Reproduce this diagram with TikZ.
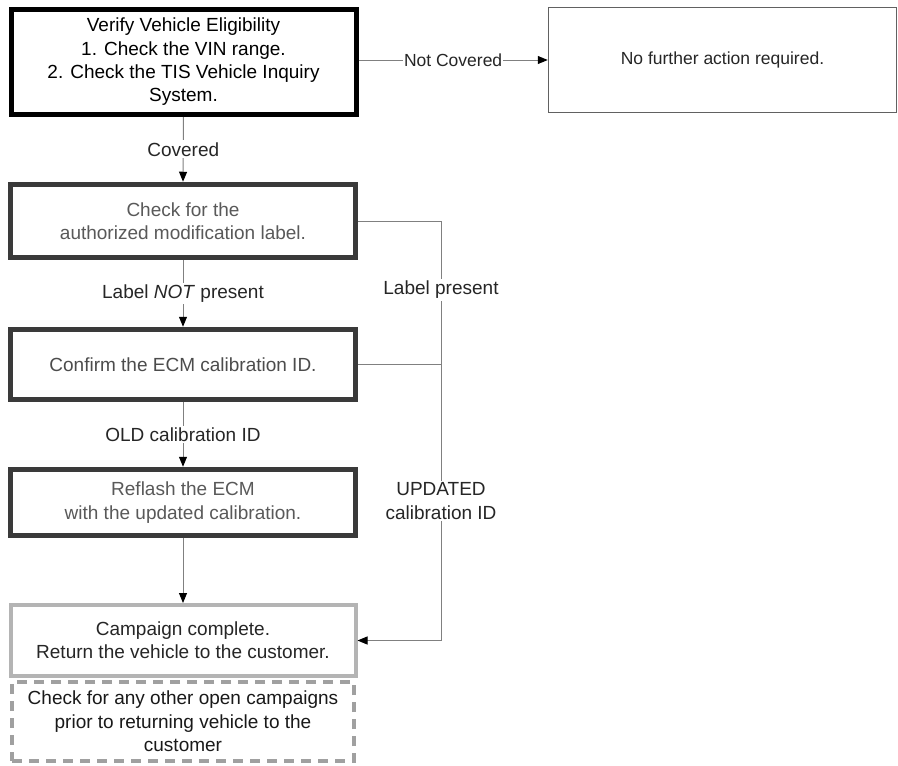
\documentclass[tikz,border=0pt]{standalone}
\usepackage{fontspec}
\setmainfont{Liberation Sans}
\usetikzlibrary{arrows.meta}
\definecolor{linegray}{HTML}{808080}
\definecolor{darkborder}{HTML}{3A3A3A}
\definecolor{lightborder}{HTML}{B4B4B4}
\definecolor{dashborder}{HTML}{A0A0A0}
\tikzset{
  box/.style={rectangle, align=center, inner sep=0pt, minimum width=345pt,
    font=\fontsize{19}{23.3}\selectfont},
  conn/.style={draw=linegray, line width=1pt,
    -{Triangle[length=10pt,width=8pt,fill=black,color=black]}},
  plainconn/.style={draw=linegray, line width=1pt},
  lbl/.style={fill=white, inner sep=2pt, font=\fontsize{19}{23.3}\selectfont, text=black!85, align=center},
}
\begin{document}
\begin{tikzpicture}[x=1pt,y=-1pt]
\useasboundingbox (0,0) rectangle (898,766);
\fill[white] (0,0) rectangle (898,766);

\node[box, draw=black, line width=5pt, minimum height=105pt, text=black] (b1) at (183.5,62)
  {Verify Vehicle Eligibility\\1. Check the VIN range.\\2. Check the TIS Vehicle Inquiry\\System.};
\node[box, draw=darkborder!80, line width=1.5pt, minimum width=348pt, minimum height=105pt,
  font=\fontsize{17.5}{21}\selectfont, text=black!85] (nf) at (722.5,60)
  {No further action required.};
\node[box, draw=darkborder, line width=5.5pt, minimum height=73pt, text=black!65] (b2) at (183,221)
  {Check for the\\authorized modification label.};
\node[box, draw=darkborder, line width=5.5pt, minimum height=70pt, text=black!70] (b3) at (183,364.5)
  {Confirm the ECM calibration ID.};
\node[box, draw=darkborder, line width=5.5pt, minimum height=66pt, text=black!65] (b4) at (183,502.5)
  {Reflash the ECM\\with the updated calibration.};
\node[box, draw=lightborder, line width=4pt, minimum height=71pt, text=black!85] (b5) at (183,640.5)
  {Campaign complete.\\Return the vehicle to the customer.};
\node[box, draw=dashborder, line width=4pt, dash pattern=on 10pt off 7pt, minimum width=342pt,
  minimum height=79pt, text=black!90] (b6) at (183,721.5)
  {Check for any other open campaigns\\prior to returning vehicle to the\\customer};

\coordinate (rail) at (441,0);

\draw[conn] (b1.east |- nf.west) -- node[lbl, inner sep=1pt, font=\fontsize{17.5}{21}\selectfont] {Not Covered} (nf.west);
\draw[conn] (b1.south) -- node[lbl] {Covered} (b2.north);
\draw[conn] (b2.south) -- node[lbl] {Label \textit{NOT} present} (b3.north);
\draw[conn] (b3.south) -- node[lbl] {OLD calibration ID} (b4.north);
\draw[conn] (b4.south) -- (b5.north);
\draw[conn] (b2.east) -- (b2.east -| rail) -- (b5.east -| rail) -- (b5.east);
\draw[plainconn] (b3.east) -- (b3.east -| rail);

\node[lbl] (lp) at (441,290) {Label present};
\node[lbl] (up) at (441,501) {UPDATED\\calibration ID};
\end{tikzpicture}
\end{document}
